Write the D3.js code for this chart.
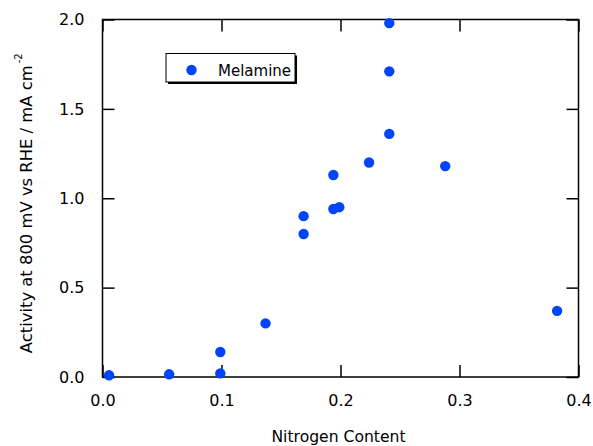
<!DOCTYPE html>
<html>
<head>
<meta charset="utf-8">
<script src="https://cdn.jsdelivr.net/npm/d3@7"></script>
<style>
  body { margin: 0; background: #fff; }
  text { font-family: "DejaVu Sans", sans-serif; fill: #000; }
</style>
</head>
<body>
<div id="chart"></div>
<script>
// nitrogen content vs activity, melamine series
var nitrogen = [0.0055, 0.056, 0.099, 0.099, 0.137, 0.169, 0.169, 0.194, 0.194, 0.199, 0.224, 0.241, 0.241, 0.241, 0.288, 0.382]
var activity = [0.01, 0.015, 0.02, 0.14, 0.30, 0.90, 0.80, 1.13, 0.94, 0.95, 1.20, 1.98, 1.71, 1.36, 1.18, 0.37]
var xTicks = [0.0, 0.1, 0.2, 0.3, 0.4]
var yTicks = [0.0, 0.5, 1.0, 1.5, 2.0]
var seriesName = "Melamine"

var W = 593, H = 446
var margin = { top: 19.5, left: 102.5, bottom: 69, right: 14.5 }
var width = W - margin.left - margin.right
var height = H - margin.top - margin.bottom
var blue = "#0044ff"

var pts = nitrogen.map(function (d, i) { return { x: d, y: activity[i] } })

var svg = d3.select("#chart").append("svg")
  .attr("width", W)
  .attr("height", H)

var g = svg.append("g")
  .attr("transform", "translate(" + margin.left + "," + margin.top + ")")

var xScale = d3.scaleLinear().domain([0, 0.4]).range([0, width])
var yScale = d3.scaleLinear().domain([0, 2]).range([height, 0])

var tickLen = 12

// axes with inward ticks
var xAxis = d3.axisBottom(xScale).tickValues(xTicks).tickSize(-tickLen).tickPadding(tickLen + 6)
  .tickFormat(d3.format(".1f"))
var yAxis = d3.axisLeft(yScale).tickValues(yTicks).tickSize(-tickLen).tickPadding(tickLen + 6)
  .tickFormat(d3.format(".1f"))

var gx = g.append("g").attr("transform", "translate(0," + height + ")").call(xAxis)
var gy = g.append("g").call(yAxis)

// mirrored ticks on top and right
var gxt = g.append("g").call(d3.axisTop(xScale).tickValues(xTicks).tickSize(-tickLen).tickFormat(""))
var gyr = g.append("g").attr("transform", "translate(" + width + ",0)")
  .call(d3.axisRight(yScale).tickValues(yTicks).tickSize(-tickLen).tickFormat(""))

;[gx, gy, gxt, gyr].forEach(function (a) {
  a.select(".domain").remove()
  a.selectAll("line").attr("stroke", "#000").attr("stroke-width", 1.5)
  a.selectAll("text").style("font-size", "16px").style("font-family", "DejaVu Sans, sans-serif")
})

g.append("rect")
  .attr("width", width)
  .attr("height", height)
  .attr("fill", "none")
  .attr("stroke", "#000")
  .attr("stroke-width", 1.5)

g.append("g")
  .selectAll("circle")
  .data(pts)
  .enter()
  .append("circle")
  .attr("cx", function (d) { return xScale(d.x) })
  .attr("cy", function (d) { return yScale(d.y) })
  .attr("r", 5.2)
  .attr("fill", blue)

// legend
var lg = svg.append("g").attr("transform", "translate(166,53.5)")
lg.append("rect").attr("x", 2).attr("y", 2).attr("width", 129).attr("height", 28.5).attr("fill", "#000")
lg.append("rect").attr("width", 129).attr("height", 28.5).attr("fill", "#fff").attr("stroke", "#000").attr("stroke-width", 1)
lg.append("circle").attr("cx", 25.5).attr("cy", 16.5).attr("r", 5.2).attr("fill", blue)
lg.append("text").attr("x", 52).attr("y", 22).style("font-size", "15px").text(seriesName)

// axis titles
svg.append("text")
  .attr("x", margin.left + width / 2 - 2)
  .attr("y", 442)
  .attr("text-anchor", "middle")
  .style("font-size", "15.6px")
  .text("Nitrogen Content")

var yl = svg.append("text")
  .attr("transform", "translate(32," + (margin.top + height / 2 + 5) + ") rotate(-90)")
  .attr("text-anchor", "middle")
  .style("font-size", "16.4px")
yl.append("tspan").text("Activity at 800 mV vs RHE / mA cm")
yl.append("tspan").attr("dx", 2).attr("dy", -10).style("font-size", "10px").text("-2")
</script>
</body>
</html>
